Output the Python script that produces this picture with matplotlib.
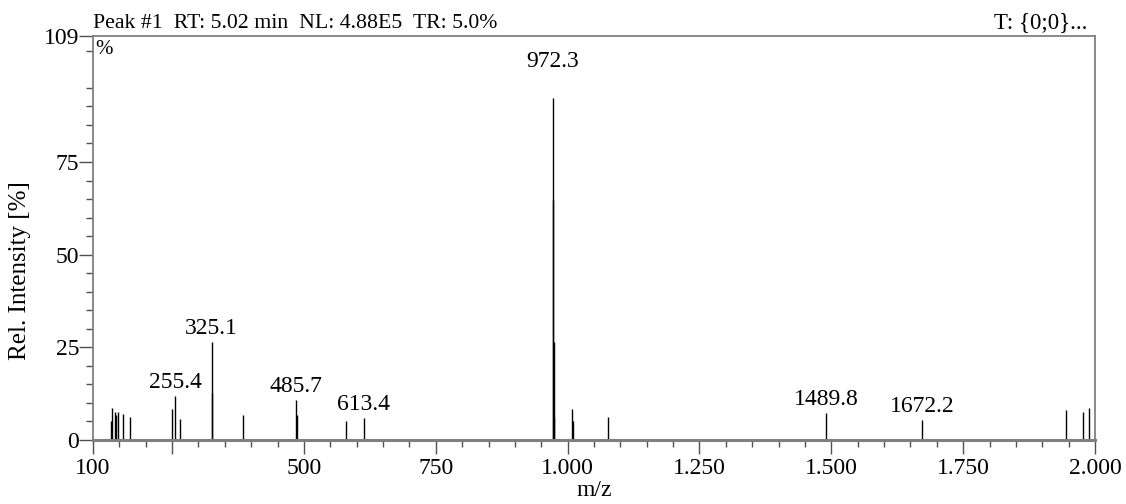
import matplotlib
matplotlib.use("Agg")
import matplotlib.pyplot as plt

plt.rcParams['font.family'] = ['Liberation Serif', 'DejaVu Serif']

# Peak list (m/z, relative intensity %)
mz = [134, 136, 142, 144, 148, 157, 171, 249, 255.4, 265, 325.1, 326.1, 384,
      485.7, 486.7, 579, 613.4, 972.3, 972.8, 973.3, 973.8, 1009, 1010, 1076,
      1489.8, 1672.2, 1945.6, 1976.7, 1989]
intensity = [5.2, 8.7, 7.5, 6.7, 7.5, 7.0, 6.2, 8.4, 12.0, 5.6, 26.4, 12.7, 6.7,
             10.8, 6.7, 5.2, 5.9, 92.3, 64.8, 26.4, 6.3, 8.4, 5.2, 6.1,
             7.2, 5.4, 8.1, 7.6, 8.5]

label_mz = [255.4, 325.1, 485.7, 613.4, 972.3, 1489.8, 1672.2]
label_y = [12.0, 26.4, 10.8, 5.9, 98.5, 7.2, 5.4]

xticks = [100, 250, 500, 750, 1000, 1250, 1500, 1750, 2000]
xticklabels = ['100', '', '500', '750', '1.000', '1.250', '1.500', '1.750', '2.000']
yticks = [0, 25, 50, 75, 109]

FS = 17

fig = plt.figure(figsize=(11.26, 5.04), dpi=100)
ax = fig.add_axes([0.0826, 0.127, 0.8899, 0.8016])

ax.vlines(mz, 0, intensity, color='black', lw=1.0)

for m, y in zip(label_mz, label_y):
    ax.text(m, y + 0.8, f"{m:.1f}", ha='center', va='bottom', fontsize=FS)

ax.set_xlim(100, 2000)
ax.set_ylim(0, 109)
ax.set_xticks(xticks)
ax.set_xticklabels(xticklabels, fontsize=FS)
ax.set_xticks(list(range(150, 2000, 50)), minor=True)
ax.set_yticks(yticks)
ax.set_yticklabels([str(v) for v in yticks], fontsize=FS)
ax.set_yticks([v for v in range(5, 109, 5) if v % 25 != 0], minor=True)

ax.tick_params(axis='both', which='major', direction='out', length=10, width=1, color='#505050')
ax.tick_params(axis='y', which='major', pad=0)
ax.tick_params(axis='x', which='major', pad=3)
ax.tick_params(axis='both', which='minor', direction='out', length=5, width=1, color='#505050')

for s in ax.spines.values():
    s.set_color('#808080')
    s.set_linewidth(1.3)
ax.spines['bottom'].set_linewidth(2.2)

ax.set_xlabel('m/z', fontsize=FS, labelpad=1)
ax.set_ylabel('Rel. Intensity [%]', fontsize=18)
ax.yaxis.set_label_coords(-0.062, 0.42)

ax.text(0.0, 1.008, 'Peak #1  RT: 5.02 min  NL: 4.88E5  TR: 5.0%', transform=ax.transAxes,
        ha='left', va='bottom', fontsize=15.7)
ax.text(0.992, 1.008, 'T: {0;0}...', transform=ax.transAxes, ha='right', va='bottom', fontsize=16.5)
ax.text(0.002, 0.99, '%', transform=ax.transAxes, ha='left', va='top', fontsize=15)

fig.savefig('out.png', dpi=100)
